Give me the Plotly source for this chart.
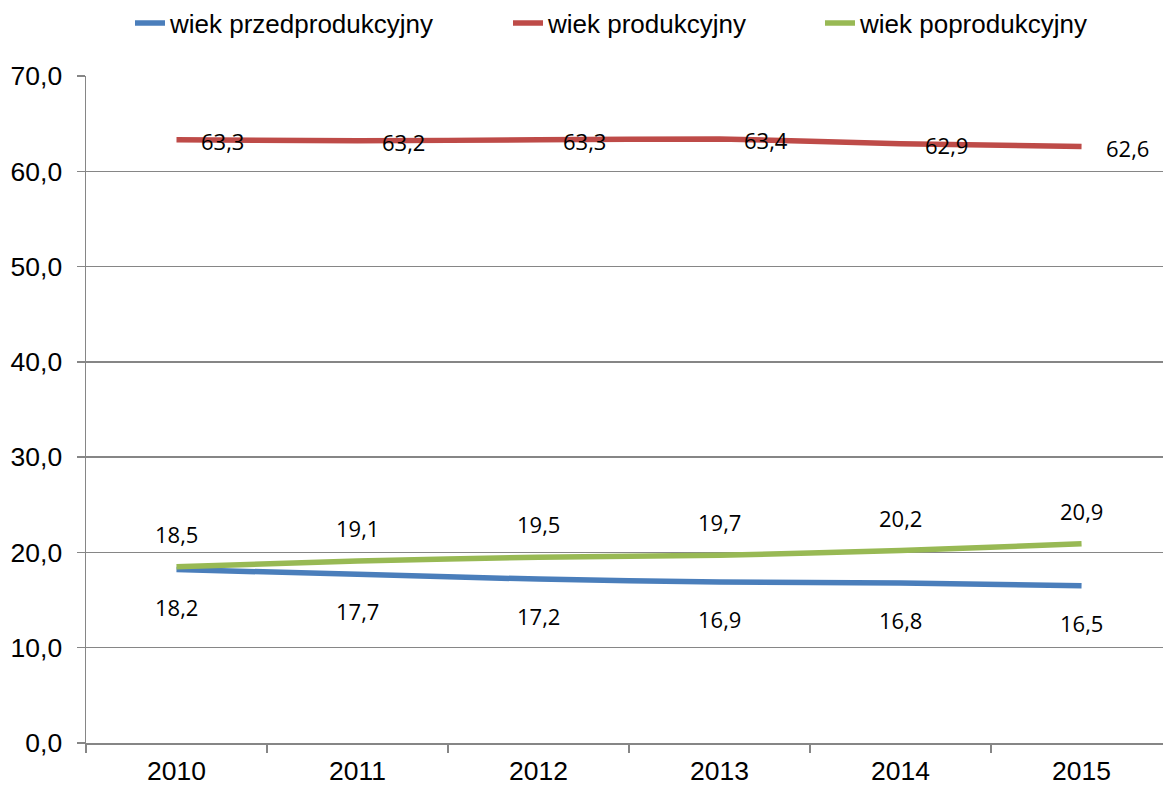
import plotly.graph_objects as go

years = ["2010", "2011", "2012", "2013", "2014", "2015"]
przed = [18.2, 17.7, 17.2, 16.9, 16.8, 16.5]
prod = [63.3, 63.2, 63.3, 63.4, 62.9, 62.6]
poprod = [18.5, 19.1, 19.5, 19.7, 20.2, 20.9]

names = ["wiek przedprodukcyjny", "wiek produkcyjny", "wiek poprodukcyjny"]
colors = ["#4A7EBB", "#BE4B48", "#98B954"]
series = [przed, prod, poprod]

W, H = 1163, 787
ML, MR, MT, MB = 86, 0, 76, 44
pw = W - ML - MR
ph = H - MT - MB

fig = go.Figure()
legend_ids = ["legend", "legend2", "legend3"]
for vals, nm, col, lg in zip(series, names, colors, legend_ids):
    fig.add_trace(go.Scatter(
        x=years, y=vals, name=nm, mode="lines",
        line=dict(color=col, width=5.5, shape="spline", smoothing=0.5),
        legend=lg, hoverinfo="skip",
    ))

def fmt(v):
    return f"{v:.1f}".replace(".", ",")

label_font = dict(family="Open Sans", size=22, color="#000000")
ann = []
for i, v in enumerate(przed):
    ann.append(dict(x=i, y=v, xref="x", yref="y", text=fmt(v), showarrow=False,
                    xanchor="center", yanchor="middle", yshift=-37, font=label_font))
for i, v in enumerate(poprod):
    ann.append(dict(x=i, y=v, xref="x", yref="y", text=fmt(v), showarrow=False,
                    xanchor="center", yanchor="middle", yshift=33, font=label_font))
for i, v in enumerate(prod):
    ann.append(dict(x=i, y=v, xref="x", yref="y", text=fmt(v), showarrow=False,
                    xanchor="left", yanchor="middle", xshift=22, yshift=-1, font=label_font))

leg_font = dict(family="Liberation Sans, Arial", size=26, color="#000000")
item_starts = [130, 508, 820]
legends = {}
for lg, px in zip(legend_ids, item_starts):
    legends[lg] = dict(
        x=(px - ML) / pw, xanchor="left", y=1 + (MT - 23) / ph, yanchor="middle",
        orientation="h", font=leg_font, bgcolor="rgba(0,0,0,0)", borderwidth=0,
        itemclick=False, itemdoubleclick=False,
    )

grid_col = "#868686"
tick_font = dict(family="Liberation Sans, Arial", size=26.5, color="#000000")

fig.update_layout(
    width=W, height=H,
    margin=dict(l=ML, r=MR, t=MT, b=MB, autoexpand=False),
    paper_bgcolor="white", plot_bgcolor="white",
    separators=", ",
    annotations=ann,
    **legends,
    xaxis=dict(
        type="category", categoryorder="array", categoryarray=years,
        range=[-0.5, 5.45], showgrid=False, zeroline=False,
        showline=True, linecolor=grid_col, linewidth=1.5,
        ticks="outside", tickson="boundaries", ticklen=8, tickcolor=grid_col,
        tickwidth=1.5, tickfont=tick_font, ticklabelstandoff=4,
    ),
    yaxis=dict(
        range=[0, 70], dtick=10, tick0=0, tickformat=".1f",
        showgrid=True, gridcolor=grid_col, gridwidth=1.5,
        zeroline=False, showline=True, linecolor=grid_col, linewidth=1.5,
        ticks="outside", ticklen=8, tickcolor=grid_col, tickwidth=1.5,
        tickfont=tick_font, ticklabelstandoff=9,
    ),
    showlegend=True,
)

fig.write_html(
    "out.html",
    config={"displayModeBar": False, "staticPlot": True},
    post_script="document.body.style.margin='0';document.body.style.padding='0';",
)
